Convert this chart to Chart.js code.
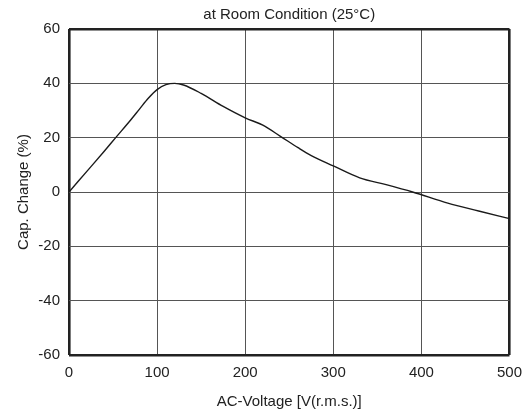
<!DOCTYPE html>
<html>
<head>
<meta charset="utf-8">
<script src="https://cdn.jsdelivr.net/npm/chart.js@4/dist/chart.umd.min.js"></script>
<style>
  html, body { margin: 0; padding: 0; background: #fff; }
  #wrap { width: 531px; height: 413px; }
</style>
</head>
<body>
<div id="wrap"><canvas id="c" width="531" height="413"></canvas></div>
<script>
const voltage   = [0, 20, 40, 53, 70, 80, 90, 100, 110, 120, 130, 150, 175, 200, 220, 240, 260, 275, 300, 330, 360, 390, 430, 465, 500];
const capChange = [0, 7.5, 15, 20, 26.5, 30.5, 34.5, 37.7, 39.5, 40, 39.4, 36.3, 31.5, 27.3, 24.6, 20.5, 16.3, 13.4, 9.6, 5.2, 2.7, 0, -4.1, -7, -9.8];
const xTicks = [0, 100, 200, 300, 400, 500];
const yTicks = [-60, -40, -20, 0, 20, 40, 60];
const titleText = 'at Room Condition (25°C)';
const xTitle = 'AC-Voltage [V(r.m.s.)]';
const yTitle = 'Cap. Change (%)';

const FONT = '"Liberation Sans", Arial, Helvetica, sans-serif';
const points = voltage.map((v, i) => ({ x: v, y: capChange[i] }));

function edgeWidth(ctx, n) {
  return (ctx.index === 0 || ctx.index === n - 1) ? 2.6 : 1;
}
function edgeColor(ctx, n) {
  return (ctx.index === 0 || ctx.index === n - 1) ? '#222' : '#555';
}

new Chart(document.getElementById('c'), {
  type: 'line',
  data: {
    datasets: [{
      data: points,
      borderColor: '#1a1a1a',
      borderWidth: 1.4,
      pointRadius: 0,
      fill: false,
      cubicInterpolationMode: 'monotone'
    }]
  },
  options: {
    responsive: false,
    animation: false,
    devicePixelRatio: 1,
    layout: { padding: { top: 0, left: 0, right: 21, bottom: 0 } },
    plugins: {
      legend: { display: false },
      tooltip: { enabled: false },
      title: {
        display: true,
        text: titleText,
        fullSize: false,
        color: '#222',
        font: { family: FONT, size: 15, weight: 'normal' },
        padding: { top: 6, bottom: 5 }
      }
    },
    scales: {
      x: {
        type: 'linear',
        min: 0, max: 500,
        afterBuildTicks: s => { s.ticks = xTicks.map(v => ({ value: v })); },
        afterFit: s => { s.height = 58; },
        border: { display: false },
        grid: {
          drawTicks: false,
          color: ctx => edgeColor(ctx, xTicks.length),
          lineWidth: ctx => edgeWidth(ctx, xTicks.length)
        },
        ticks: {
          padding: 9,
          color: '#222',
          maxRotation: 0,
          font: { family: FONT, size: 15 }
        },
        title: {
          display: true,
          text: xTitle,
          color: '#222',
          font: { family: FONT, size: 15 },
          padding: { top: 2, bottom: 2 }
        }
      },
      y: {
        type: 'linear',
        min: -60, max: 60,
        afterBuildTicks: s => { s.ticks = yTicks.map(v => ({ value: v })); },
        afterFit: s => { s.width = 69; },
        border: { display: false },
        grid: {
          drawTicks: false,
          color: ctx => edgeColor(ctx, yTicks.length),
          lineWidth: ctx => edgeWidth(ctx, yTicks.length)
        },
        ticks: {
          padding: 9,
          color: '#222',
          font: { family: FONT, size: 15 }
        },
        title: {
          display: true,
          text: yTitle,
          color: '#222',
          font: { family: FONT, size: 15 },
          padding: { top: 15, bottom: 0 }
        }
      }
    }
  }
});
</script>
</body>
</html>
